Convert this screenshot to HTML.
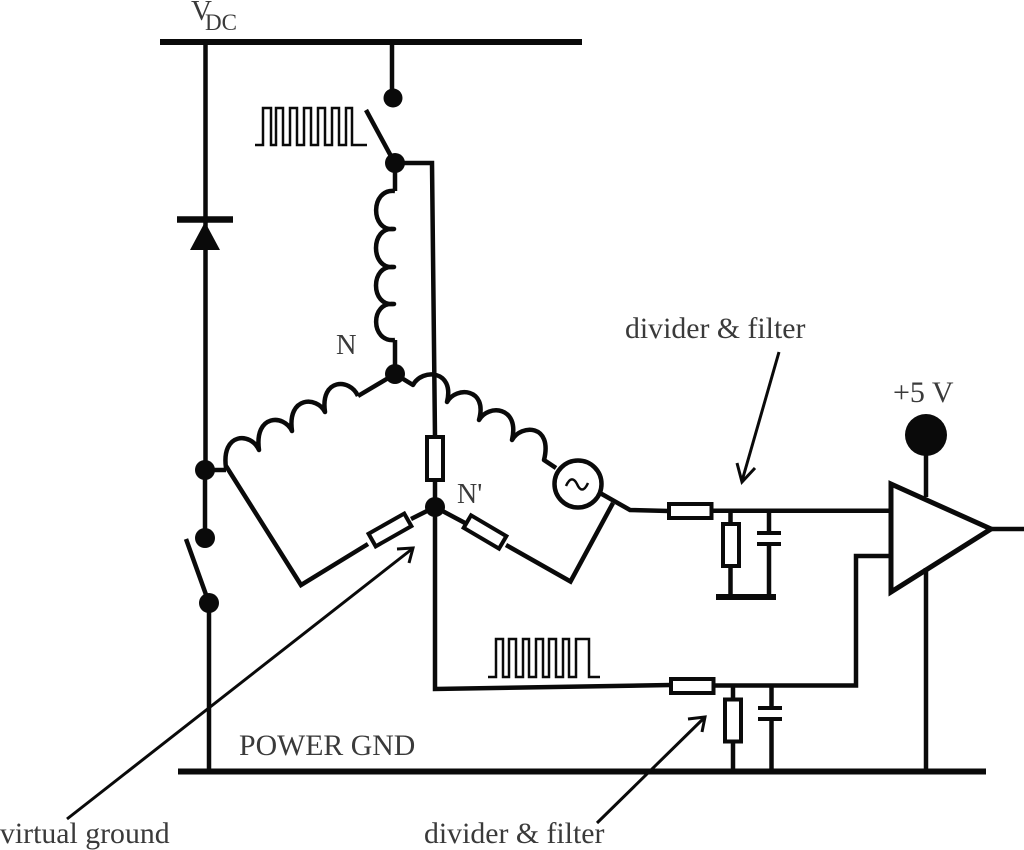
<!DOCTYPE html>
<html>
<head>
<meta charset="utf-8">
<style>
html,body{margin:0;padding:0;background:#fff;}
svg{display:block;}
text{font-family:"Liberation Serif",serif;fill:#3a3a3a;}
</style>
</head>
<body>
<svg width="1024" height="850" viewBox="0 0 1024 850" xmlns="http://www.w3.org/2000/svg">
<g fill="none" stroke="#0a0a0a" stroke-width="4.5" stroke-linecap="butt" stroke-linejoin="miter">
<!-- rails -->
<path d="M160 42H582" stroke-width="6"/>
<path d="M178 771.5H986" stroke-width="6"/>
<!-- VDC left line, diode -->
<path d="M205.500 42V470"/>
<path d="M177 219.500H233" stroke-width="6.5"/>
<path d="M205 470V538"/>
<path d="M186 539L209 603"/>
<path d="M209 603V771"/>
<!-- top switch -->
<path d="M392 42V98"/>
<path d="M366 110L392 158"/>
<path d="M395 163H432L435 437"/>
<!-- vertical inductor -->
<path d="M395 163V191 M395 340V374"/>
<path d="M395 191C370 188 370 232 394 229C370 226 370 270 394 267C370 264 370 307 394 304C370 301 370 343 395 340" stroke-linejoin="round"/>
<!-- left inductor -->
<path d="M395 374L358 396"/>
<path d="M358 396C350 378 320 378 325 412C317 396 287 396 292 431C284 414 254 414 259 450C251 432 221 432 226 468" stroke-linejoin="round"/>
<path d="M205 470H226"/>
<path d="M226 466L301 585L368 544"/>
<path d="M411 519L435 507"/>
<!-- right inductor -->
<path d="M395 374L413 385C422 368 455 370 447 402C456 386 488 388 479 420C488 404 520 406 512 440C521 424 553 424 544 460L556 468" stroke-linejoin="round"/>
<!-- resistors -->
<rect x="427" y="437" width="16" height="43" stroke-width="4" fill="#fff"/>
<path d="M435 480V508"/>
<path d="M435 507L465 523"/>
<g transform="rotate(-29.5 390 530)"><rect x="369.500" y="522.700" width="41" height="14.500" stroke-width="4" fill="#fff"/></g>
<g transform="rotate(30.500 485 532)"><rect x="464.500" y="524.700" width="41" height="14.500" stroke-width="4" fill="#fff"/></g>
<path d="M506 545L570.500 581.500L613 503"/>
<!-- source -->
<circle cx="578" cy="484" r="23.500" stroke-width="4.5" fill="#fff"/>
<path d="M566 486C570 477 574 478 577 484C580 491 584 492 588 483" stroke-width="2.5"/>
<path d="M600 493L630 510L669 511"/>
<!-- upper filter -->
<rect x="669" y="504" width="42.500" height="14" stroke-width="4" fill="#fff"/>
<path d="M711 510.700H891"/>
<path d="M730.500 511V524 M730.500 566V597"/>
<rect x="723" y="524" width="16" height="42" stroke-width="4" fill="#fff"/>
<path d="M769 511V533 M769 544V597"/>
<path d="M757 533H781 M757 544H781" stroke-width="4"/>
<path d="M716 597H776" stroke-width="6"/>
<!-- lower path -->
<path d="M435 508V689L671 685"/>
<rect x="671" y="679" width="42.500" height="14" stroke-width="4" fill="#fff"/>
<path d="M713 685.500H856V556H891"/>
<path d="M733 686V699.500 M733 741.500V771"/>
<rect x="725" y="699.500" width="16" height="42" stroke-width="4" fill="#fff"/>
<path d="M771.500 686V708 M771.500 719V771"/>
<path d="M758 708H782 M758 719H782" stroke-width="4"/>
<!-- opamp -->
<path d="M926 440V497 M926 568V771"/>
<path d="M891 484L991 529L891 592Z" stroke-width="5"/>
<path d="M991 529H1024"/>
<!-- pulses -->
<path d="M255 145H263V108H271V145H276V108H283V145H290V108H297V145H304V108H311V145H318V108H325V145H332V108H339V145H346V108H352V145H367" stroke-width="2.5"/>
<path d="M488 677H496V639H503V677H509V639H516V677H523V639H529V677H536V639H543V677H549V639H556V677H563V639H569V677H576V639H589V677H600" stroke-width="2.5"/>
<!-- arrows -->
<path d="M779 352L742 481" stroke-width="3"/>
<path d="M737 463L742 482L755 468" stroke-width="3"/>
<path d="M67 819L412 549" stroke-width="3"/>
<path d="M397 549L413 548L409 563" stroke-width="3"/>
<path d="M597 823L704 718" stroke-width="3"/>
<path d="M688 719L705 717L702 732" stroke-width="3"/>
</g>
<!-- diode triangle -->
<polygon points="205,222 190,250 220,250" fill="#0a0a0a"/>
<!-- dots -->
<g fill="#0a0a0a">
<circle cx="393" cy="98" r="9.500"/>
<circle cx="395" cy="163" r="10"/>
<circle cx="395" cy="374" r="10"/>
<circle cx="205" cy="470" r="10"/>
<circle cx="205" cy="538" r="10"/>
<circle cx="209" cy="603" r="10"/>
<circle cx="435" cy="507" r="10"/>
<circle cx="926" cy="435" r="21"/>
</g>
<!-- labels -->
<text x="191" y="20" font-size="29">V</text>
<text x="205" y="30" font-size="23">DC</text>
<text x="336" y="354" font-size="28.500">N</text>
<text x="457" y="503" font-size="28">N'</text>
<text x="625" y="338" font-size="29.800">divider &amp; filter</text>
<text x="893" y="402" font-size="30">+5 V</text>
<text x="239" y="755" font-size="29.800">POWER GND</text>
<text x="0" y="843" font-size="29.800">virtual ground</text>
<text x="424" y="843" font-size="29.800">divider &amp; filter</text>
</svg>
</body>
</html>
